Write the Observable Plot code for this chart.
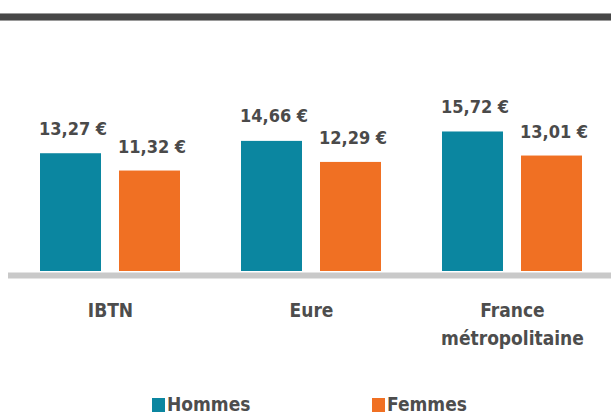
<!DOCTYPE html>
<html>
<head>
<meta charset="utf-8">
<script src="https://cdn.jsdelivr.net/npm/d3@7"></script>
<script src="https://cdn.jsdelivr.net/npm/@observablehq/plot@0.6"></script>
<style>
  html, body { margin: 0; padding: 0; background: #fff; }
  #wrap { position: relative; width: 611px; height: 415px; overflow: hidden;
          font-family: "DejaVu Sans Condensed", "DejaVu Sans", sans-serif; font-stretch: condensed; }
  #topline { position: absolute; left: 0; top: 13px; width: 611px; height: 6px;
             background: #474747; border-top: 1px solid #9a9a9a; border-bottom: 1px solid #9a9a9a; }
  #chart { position: absolute; left: 0; top: 0; }
  #legend { position: absolute; left: 0; top: 394px; width: 611px; height: 21px; }
  .item { position: absolute; top: 0; font-weight: bold; font-size: 19px; color: #4d4d4d; line-height: 21px; }
  .sw { position: absolute; top: 4px; width: 13px; height: 14px; }
</style>
</head>
<body>
<div id="wrap">
  <div id="chart"></div>
  <div id="topline"></div>
  <div id="legend"></div>
</div>
<script>
const categories = ["IBTN", "Eure", "France\nmétropolitaine"];
const seriesNames = ["Hommes", "Femmes"];
const hommes = [13.27, 14.66, 15.72];
const femmes = [11.32, 12.29, 13.01];
const colors = ["#0b86a0", "#f07023"];

const hData = categories.map((c, i) => ({cat: c, v: hommes[i]}));
const fData = categories.map((c, i) => ({cat: c, v: femmes[i]}));
const fmt = v => v.toFixed(2).replace(".", ",") + " €";
const font = "DejaVu Sans Condensed, DejaVu Sans, sans-serif";

const plot = Plot.plot({
  width: 611,
  height: 385,
  marginLeft: 8,
  marginRight: 0,
  marginTop: 129,
  marginBottom: 114,
  style: {fontFamily: font, background: "transparent", overflow: "visible"},
  x: {domain: categories, paddingInner: 61 / 201, paddingOuter: 0.15174, align: 0.5246, axis: null},
  y: {domain: [0, 16], axis: null},
  marks: [
    Plot.ruleY([0], {stroke: "#c9c9c9", strokeWidth: 6, dy: 4}),
    Plot.barY(hData, {x: "cat", y: "v", fill: colors[0], insetRight: 79}),
    Plot.barY(fData, {x: "cat", y: "v", fill: colors[1], insetLeft: 79}),
    Plot.text(hData, {x: "cat", y: "v", text: d => fmt(d.v), dx: -37.5, dy: -19, lineAnchor: "bottom",
      fontSize: 18, fontWeight: "bold", fill: "#4a4a4a", fontStretch: "condensed", letterSpacing: "-0.3px"}),
    Plot.text(fData, {x: "cat", y: "v", text: d => fmt(d.v), dx: 41.5, dy: -18, lineAnchor: "bottom",
      fontSize: 18, fontWeight: "bold", fill: "#4a4a4a", fontStretch: "condensed", letterSpacing: "-0.3px"}),
    Plot.text(categories, {x: d => d, frameAnchor: "bottom", text: d => d, lineAnchor: "top", dy: 25,
      lineHeight: 1.5, fontSize: 19, fontWeight: "bold", fill: "#4d4d4d", fontStretch: "condensed"})
  ]
});
document.getElementById("chart").appendChild(plot);

const legend = document.getElementById("legend");
const lx = [152, 372];
seriesNames.forEach((name, i) => {
  const sw = document.createElement("div");
  sw.className = "sw";
  sw.style.left = lx[i] + "px";
  sw.style.background = colors[i];
  legend.appendChild(sw);
  const t = document.createElement("div");
  t.className = "item";
  t.style.left = (lx[i] + 15) + "px";
  t.textContent = name;
  legend.appendChild(t);
});
</script>
</body>
</html>
